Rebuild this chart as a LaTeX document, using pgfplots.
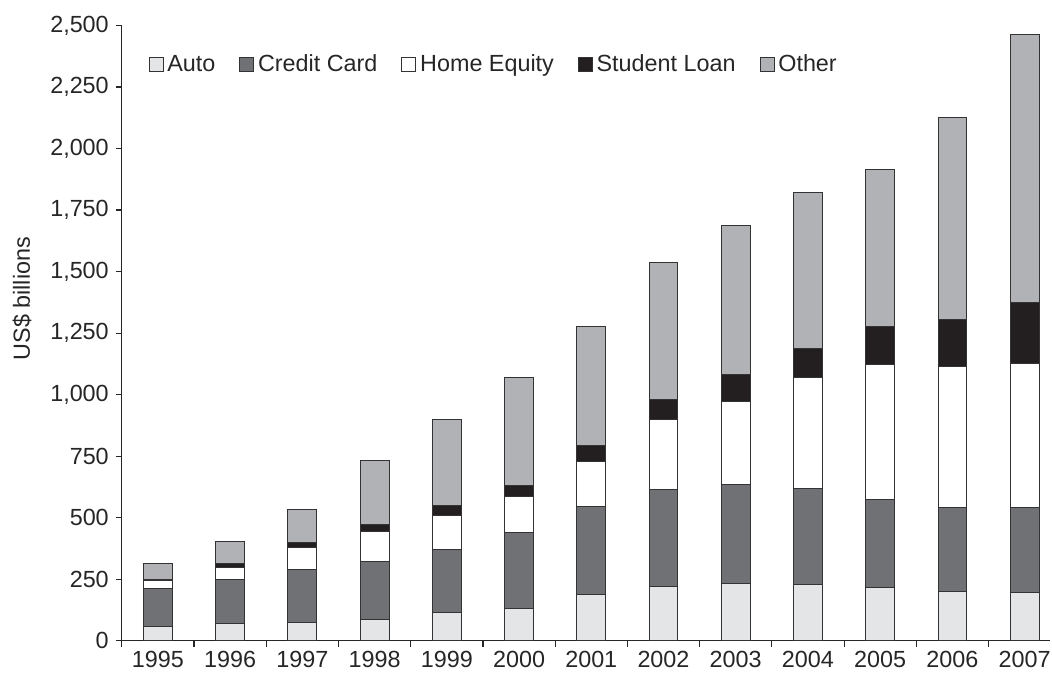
\documentclass[border=0pt]{standalone}
\usepackage{pgfplots}
\pgfplotsset{compat=1.18}
\usepackage{pgfplotstable}
\usepackage{fontspec}
\setmainfont{Liberation Sans}

\definecolor{cauto}{HTML}{E4E5E7}
\definecolor{ccard}{HTML}{707175}
\definecolor{chome}{HTML}{FFFFFF}
\definecolor{cstud}{HTML}{231F20}
\definecolor{cother}{HTML}{B1B2B5}
\definecolor{cedge}{HTML}{333333}

% consumer debt by type, US$ billions
\pgfplotstableread{
year auto card home student other
1995  58 153  34   5  65
1996  69 181  49  14  90
1997  76 214  88  21 136
1998  87 235 122  27 260
1999 114 257 138  41 349
2000 133 306 149  43 440
2001 187 359 184  62 485
2002 219 397 284  79 559
2003 232 402 340 106 608
2004 230 390 449 120 633
2005 218 357 546 156 637
2006 200 341 575 190 818
2007 197 346 582 248 1092
}\debt

\newcommand{\lbl}{\fontsize{11.7}{13}\selectfont}

\begin{document}
\begin{tikzpicture}
\begin{axis}[
    scale only axis,
    width=465pt, height=308.25pt,
    ybar stacked, bar width=0.4,
    xmin=1994.5, xmax=2007.35,
    ymin=0, ymax=2500,
    axis lines=left,
    axis line style={-, draw=black!85, line width=0.6pt},
    tick align=outside,
    major tick length=3pt, minor tick length=3pt,
    tick style={draw=black!85, line width=0.6pt},
    xtick={1995,...,2007},
    major x tick style={draw=none},
    minor xtick={1994.5,1995.5,...,2006.5},
    ytick={0,250,...,2500},
    /pgf/number format/assume math mode=true,
    tick label style={font=\lbl, text=black!85},
    xticklabel style={/pgf/number format/1000 sep={}, yshift=1.5pt},
    yticklabel style={/pgf/number format/1000 sep={,}},
    ylabel={US\$ billions},
    every axis y label/.style={at={(rel axis cs:0,0.556)}, xshift=-50pt,
        rotate=90, anchor=center, font=\lbl, text=black!85},
    legend columns=-1,
    legend style={at={(rel axis cs:0.022,0.936)}, anchor=west, draw=none,
        fill=none, font=\lbl, text=black!85,
        /tikz/every even column/.append style={column sep=10pt},
        nodes={inner xsep=2pt}},
    legend image code/.code={%
        \draw[#1, draw=cedge, line width=0.4pt] (0pt,-3.5pt) rectangle (7pt,3.5pt);},
    every axis plot/.append style={draw=cedge, line width=0.5pt},
    clip=false,
]
\addplot[fill=cauto] table[x=year, y=auto] {\debt};
\addplot[fill=ccard] table[x=year, y=card] {\debt};
\addplot[fill=chome] table[x=year, y=home] {\debt};
\addplot[fill=cstud] table[x=year, y=student] {\debt};
\addplot[fill=cother] table[x=year, y=other] {\debt};
\legend{Auto, Credit Card, Home Equity, Student Loan, Other}
\coordinate (sw) at (rel axis cs:0,0);
\coordinate (ne) at (rel axis cs:1,1);
\end{axis}
\pgfresetboundingbox
\path ([shift={(-61pt,-16.5pt)}]sw) rectangle ([shift={(1pt,12.75pt)}]ne);
\end{tikzpicture}
\end{document}
